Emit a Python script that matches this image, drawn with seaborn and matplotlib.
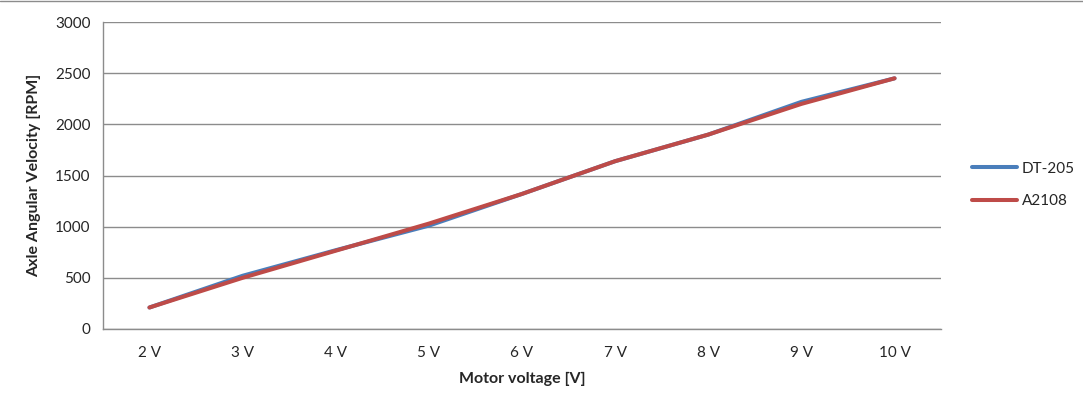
import pandas as pd
import seaborn as sns
import matplotlib.pyplot as plt
from matplotlib.lines import Line2D
from matplotlib.ticker import FixedLocator, NullFormatter

# data
voltages = ['2 V', '3 V', '4 V', '5 V', '6 V', '7 V', '8 V', '9 V', '10 V']
dt205 = [210, 520, 770, 1010, 1320, 1640, 1900, 2220, 2450]
a2108 = [210, 500, 765, 1030, 1320, 1640, 1900, 2200, 2450]

df = pd.DataFrame({
    'pos': list(range(len(voltages))) * 2,
    'rpm': dt205 + a2108,
    'motor': ['DT-205'] * len(voltages) + ['A2108'] * len(voltages),
})

sns.set_style('white')
plt.rcParams['font.family'] = ['Lato', 'DejaVu Sans']

fig = plt.figure(figsize=(10.83, 4.12), dpi=100)
ax = fig.add_axes([0.095, 0.2015, 0.774, 0.745])

sns.lineplot(data=df, x='pos', y='rpm', hue='motor',
             palette={'DT-205': '#4A7EBB', 'A2108': '#BE4B48'},
             linewidth=2.9, ax=ax, solid_capstyle='round')

ax.set_xlim(-0.5, len(voltages) - 0.5)
ax.set_ylim(0, 3000)
ax.set_yticks(range(0, 3001, 500))
ax.yaxis.grid(True, color='#8c8c8c', linewidth=1)
ax.set_axisbelow(True)

# Excel-style category axis: ticks between categories, labels centred
ax.xaxis.set_major_locator(FixedLocator([i - 0.5 for i in range(len(voltages) + 1)]))
ax.xaxis.set_major_formatter(NullFormatter())
ax.xaxis.set_minor_locator(FixedLocator(range(len(voltages))))
ax.set_xticklabels(voltages, minor=True)
ax.tick_params(axis='x', which='major', length=5, width=1, color='#8c8c8c', direction='out')
ax.tick_params(axis='x', which='minor', length=0, pad=12, labelsize=11)
ax.tick_params(axis='y', length=5, width=1, color='#8c8c8c', direction='out', labelsize=11, pad=4)

for s in ['top', 'right']:
    ax.spines[s].set_visible(False)
for s in ['left', 'bottom']:
    ax.spines[s].set_color('#8c8c8c')
    ax.spines[s].set_linewidth(1)

ax.set_xlabel('Motor voltage [V]', fontsize=11.5, fontweight='bold', labelpad=9)
ax.set_ylabel('Axle Angular Velocity [RPM]', fontsize=11.5, fontweight='bold', labelpad=10)

ax.legend(loc='center left', bbox_to_anchor=(1.02, 0.47), frameon=False,
          fontsize=11, handlelength=3, labelspacing=1.2, handletextpad=0.3)

fig.add_artist(Line2D([0, 1], [0.997, 0.997], color='#8c8c8c', linewidth=1))

fig.savefig('out.png', dpi=100)
